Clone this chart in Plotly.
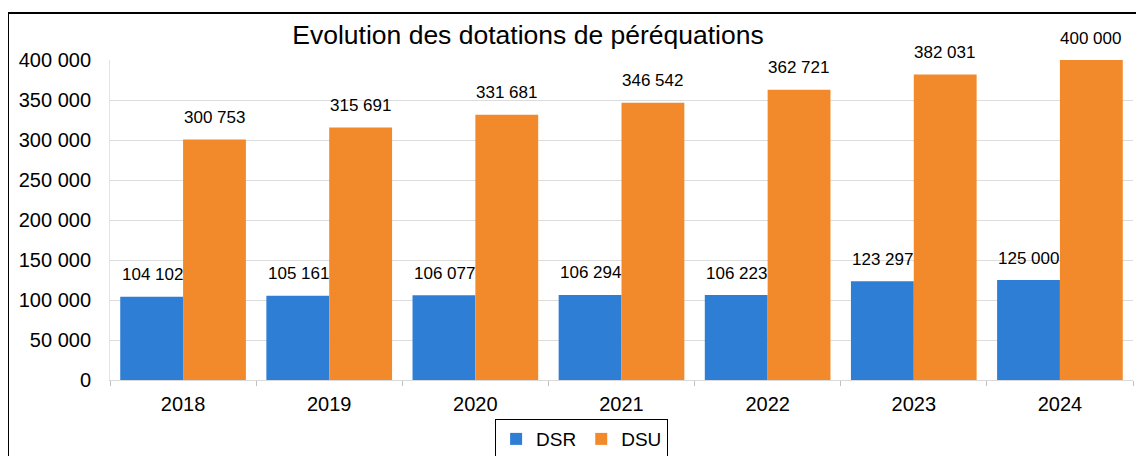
import plotly.graph_objects as go

years = ["2018", "2019", "2020", "2021", "2022", "2023", "2024"]
dsr = [104102, 105161, 106077, 106294, 106223, 123297, 125000]
dsu = [300753, 315691, 331681, 346542, 362721, 382031, 400000]
y_ticks = [0, 50000, 100000, 150000, 200000, 250000, 300000, 350000, 400000]

BLUE = "#2f7ed6"
ORANGE = "#f28a2c"
FONT = "Liberation Sans, Arial, sans-serif"


def fmt(v):
    return f"{v:,}".replace(",", " ")


fig = go.Figure()
fig.add_trace(go.Bar(name="DSR", x=years, y=dsr, marker_color=BLUE, marker_line_width=0))
fig.add_trace(go.Bar(name="DSU", x=years, y=dsu, marker_color=ORANGE, marker_line_width=0))

annotations = []
for i, v in enumerate(dsr):
    annotations.append(dict(x=i, y=v, xref="x", yref="y", text=fmt(v), showarrow=False,
                            xshift=-31, yshift=22, yanchor="middle",
                            font=dict(size=17, color="black", family=FONT)))
for i, v in enumerate(dsu):
    annotations.append(dict(x=i, y=v, xref="x", yref="y", text=fmt(v), showarrow=False,
                            xshift=31, yshift=22, yanchor="middle",
                            font=dict(size=17, color="black", family=FONT)))

fig.update_layout(
    width=1144, height=456,
    margin=dict(l=102, r=19, t=52, b=84, autoexpand=False),
    paper_bgcolor="white", plot_bgcolor="white",
    font=dict(family=FONT, color="black", size=20),
    barmode="group", bargap=0.14, bargroupgap=0,
    title=dict(text="Evolution des dotations de péréquations",
               x=520 / 1144, xref="container", xanchor="center",
               y=1 - 27 / 456, yref="container", yanchor="middle",
               font=dict(size=26.5, color="black", family=FONT)),
    annotations=annotations,
    legend=dict(orientation="h", x=0.461, xanchor="center", y=-0.122, yanchor="top",
                bordercolor="black", borderwidth=1, font=dict(size=19),
                itemwidth=30, tracegroupgap=0),
    showlegend=True,
    shapes=[dict(type="rect", xref="paper", yref="paper",
                 x0=(8 - 110) / 1023, x1=1.1, y0=-0.5, y1=1 + (60 - 13) / 320,
                 line=dict(color="black", width=2), fillcolor="rgba(0,0,0,0)", layer="below")],
)
fig.update_xaxes(type="category", range=[-0.5, len(years) - 0.5], autorange=False,
                 showgrid=False, showline=True, linecolor="#d9d9d9", linewidth=1,
                 ticks="outside", tickson="boundaries", ticklen=5, tickcolor="#bfbfbf",
                 tickangle=0, tickfont=dict(size=20), ticklabelstandoff=6)
fig.update_yaxes(range=[0, 400000], autorange=False, tickvals=y_ticks, ticktext=[fmt(v) for v in y_ticks],
                 showgrid=True, gridcolor="#dcdcdc", gridwidth=1, zeroline=False,
                 showline=True, linecolor="#e3e3e3", ticks="", tickfont=dict(size=20),
                 ticklabelstandoff=14)

fig.write_html("out.html")
